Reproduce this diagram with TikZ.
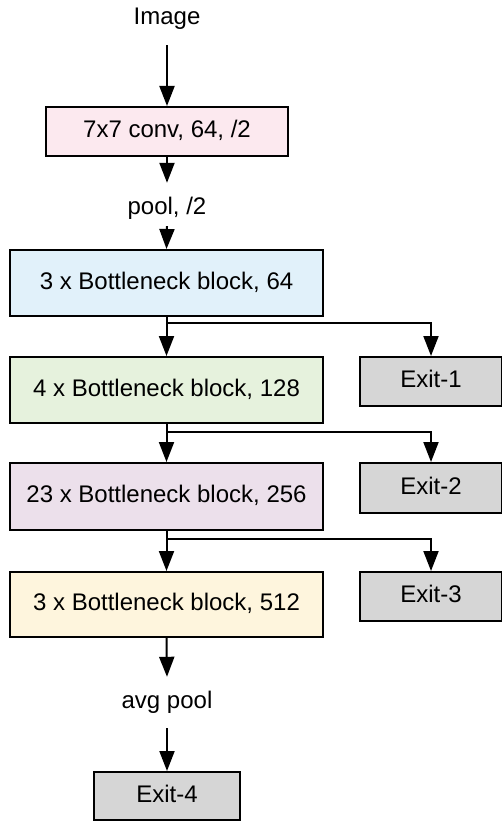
\documentclass[tikz,border=0pt]{standalone}
\usepackage{fontspec}
\setmainfont{Liberation Sans}
\usetikzlibrary{arrows.meta}

\definecolor{convpink}{HTML}{FCE9EF}
\definecolor{stageblue}{HTML}{E1F1FA}
\definecolor{stagegreen}{HTML}{E6F2DD}
\definecolor{stagepurple}{HTML}{ECE0EB}
\definecolor{stageyellow}{HTML}{FEF5DD}
\definecolor{exitgray}{HTML}{D6D6D6}

\tikzset{
  lbl/.style={font=\fontsize{24}{28}\selectfont, inner sep=0pt,
    text height=17pt, text depth=5pt},
  blockbox/.style={draw=black, line width=2pt, inner sep=0pt,
    font=\fontsize{24}{28}\selectfont, text height=17pt, text depth=5pt},
  exitbox/.style={blockbox, fill=exitgray, minimum width=142pt},
  flow/.style={line width=2pt, -{Triangle[width=15pt,length=20pt]}},
}

\begin{document}
\begin{tikzpicture}[x=1pt, y=-1pt]
  \useasboundingbox (0,0) rectangle (501,821);

  % input and stem
  \node[lbl] (img) at (167,19) {Image};
  \node[blockbox, fill=convpink, minimum width=242pt, minimum height=49pt] (conv) at (167,131.5) {7x7 conv, 64, /2};
  \node[lbl] (pool) at (167,208) {pool, /2};

  % residual stages
  \node[blockbox, fill=stageblue,   minimum width=313pt, minimum height=66pt] (s1) at (166.5,283) {3 x Bottleneck block, 64};
  \node[blockbox, fill=stagegreen,  minimum width=313pt, minimum height=66pt] (s2) at (166.5,390) {4 x Bottleneck block, 128};
  \node[blockbox, fill=stagepurple, minimum width=313pt, minimum height=67pt] (s3) at (166.5,496.5) {23 x Bottleneck block, 256};
  \node[blockbox, fill=stageyellow, minimum width=313pt, minimum height=65pt] (s4) at (166.5,604.5) {3 x Bottleneck block, 512};

  % early exits
  \node[exitbox, minimum height=49pt] (e1) at (431,381.5) {Exit-1};
  \node[exitbox, minimum height=50pt] (e2) at (431,488) {Exit-2};
  \node[exitbox, minimum height=49pt] (e3) at (431,596.5) {Exit-3};

  % head
  \node[lbl] (avg) at (167,702) {avg pool};
  \node[exitbox, minimum width=146pt, minimum height=48pt] (e4) at (167,796) {Exit-4};

  % connectors along the backbone
  \draw[flow] ([yshift=-15pt]img.south) -- (conv.north);
  \draw[flow] (conv.south) -- ([yshift=14pt]pool.north);
  \draw[flow] ([yshift=-7pt]pool.south) -- (s1.north);
  \draw[flow] (s1.south) -- (s2.north);
  \draw[flow] (s2.south) -- (s3.north);
  \draw[flow] (s3.south) -- (s4.north);
  \draw[flow] (s4.south) -- ([yshift=14pt]avg.north);
  \draw[flow] ([yshift=-15pt]avg.south) -- (e4.north);

  % branches to the early exits
  \draw[flow] (s1.south) -- ++(0,6) -| (e1.north);
  \draw[flow] (s2.south) -- ++(0,8) -| (e2.north);
  \draw[flow] (s3.south) -- ++(0,8) -| (e3.north);
\end{tikzpicture}
\end{document}
